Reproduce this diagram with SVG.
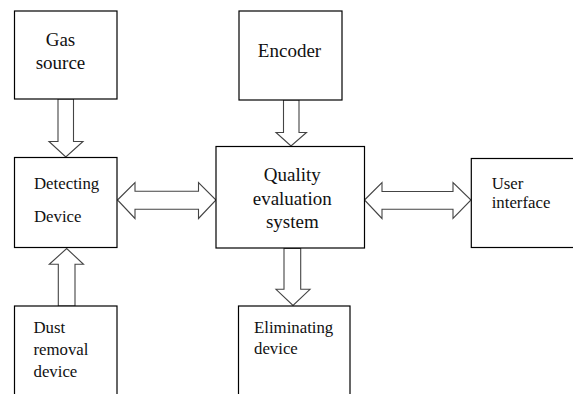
<svg xmlns="http://www.w3.org/2000/svg" width="573" height="394" viewBox="0 0 573 394">
<style>
.box{fill:#fff;stroke:#000;stroke-width:1.2}
.arr{fill:#fff;stroke:#444;stroke-width:1.1;stroke-linejoin:miter}
.big{font-size:19px}
.sm{font-size:16.8px}
.c{text-anchor:middle}
</style>
<rect width="573" height="394" fill="#fff"/>
<g id="connectors">
<polygon class="arr" points="58,99 73.5,99 73.5,141.5 83,141.5 65.8,157 49,141.5 58,141.5"/>
<polygon class="arr" points="283.5,100 299,100 299,132.5 306.5,132.5 291,146 276,132.5 283.5,132.5"/>
<polygon class="arr" points="117.5,200 135,182.5 135,191.2 198.5,191.2 198.5,182.5 216,200 198.5,218.5 198.5,209.3 135,209.3 135,218.5"/>
<polygon class="arr" points="364.5,200 382,182.5 382,191.5 453,191.5 453,182.5 471,200 453,218.5 453,209.3 382,209.3 382,218.5"/>
<polygon class="arr" points="58.3,306 75,306 75,264.3 83.5,264.3 66.7,248.5 49.3,264.3 58.3,264.3"/>
<polygon class="arr" points="284,248.5 300.7,248.5 300.7,289.3 310,289.3 293,305.5 276,289.3 284,289.3"/>
</g>
<g font-family="Liberation Serif, Times New Roman, serif" fill="#111">
<g id="gas-source">
<rect class="box" x="14.5" y="11" width="102.5" height="88"/>
<text class="big c" x="60.5" y="46">Gas</text>
<text class="big c" x="60.5" y="69">source</text>
</g>
<g id="encoder">
<rect class="box" x="239" y="11" width="103" height="89"/>
<text class="big c" x="289.5" y="56.7">Encoder</text>
</g>
<g id="detecting-device">
<rect class="box" x="14.5" y="157.5" width="102.5" height="90"/>
<text class="sm" x="34" y="189">Detecting</text>
<text class="sm" x="34" y="221.7">Device</text>
</g>
<g id="quality-evaluation-system">
<rect class="box" x="216" y="146.5" width="148.5" height="101.5"/>
<text class="big c" x="292.3" y="180.7">Quality</text>
<text class="big c" x="292.3" y="204.5">evaluation</text>
<text class="big c" x="292.3" y="228">system</text>
</g>
<g id="user-interface">
<rect class="box" x="471.3" y="158.5" width="110" height="89"/>
<text class="sm" x="491.7" y="189">User</text>
<text class="sm" x="491.7" y="208.3">interface</text>
</g>
<g id="dust-removal-device">
<rect class="box" x="14.5" y="306" width="102.5" height="100"/>
<text class="sm" x="33.5" y="333.3">Dust</text>
<text class="sm" x="33.5" y="355">removal</text>
<text class="sm" x="33.5" y="376.7">device</text>
</g>
<g id="eliminating-device">
<rect class="box" x="238.5" y="306" width="111.5" height="100"/>
<text class="sm" x="254" y="333.3">Eliminating</text>
<text class="sm" x="254" y="354">device</text>
</g>
</g>
</svg>
